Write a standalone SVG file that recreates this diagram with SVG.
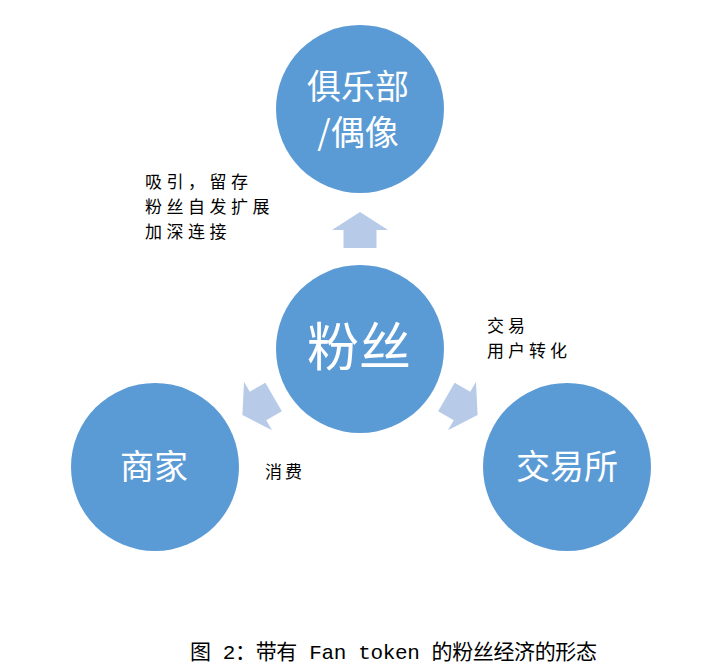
<svg xmlns="http://www.w3.org/2000/svg" width="716" height="670" viewBox="0 0 716 670">
<style>
.c{fill:#5b9bd5}
.ar{fill:#b7cbe8}
.w{fill:#ffffff;font-family:"Noto Sans CJK SC","Noto Sans",sans-serif;text-anchor:middle}
.lb{fill:#000000;font-family:"Noto Sans CJK SC","Noto Sans",sans-serif;font-size:17px}
.cap{fill:#000000;font-family:"Liberation Mono","Noto Sans CJK SC",monospace;font-size:21px}
</style>
<defs>
<polygon id="arrow" points="0,-18 28,0 16.5,0 16.5,18 -16.5,18 -16.5,0 -28,0"/>
</defs>
<rect width="716" height="670" fill="#ffffff"/>
<g id="connectors">
<use href="#arrow" class="ar" transform="translate(360,230)"/>
<use href="#arrow" class="ar" transform="translate(258,406) rotate(-120)"/>
<use href="#arrow" class="ar" transform="translate(462,406) rotate(120)"/>
</g>
<g id="club">
<circle class="c" cx="360" cy="109" r="84"/>
<text class="w" x="358" y="99" font-size="34">俱乐部</text>
<text class="w" x="358" y="145" font-size="34">/偶像</text>
</g>
<g id="fans">
<circle class="c" cx="360" cy="349" r="84"/>
<text class="w" x="359" y="366" font-size="52">粉丝</text>
</g>
<g id="merchant">
<circle class="c" cx="155" cy="467" r="84"/>
<text class="w" x="154" y="479" font-size="34">商家</text>
</g>
<g id="exchange">
<circle class="c" cx="567" cy="467" r="84"/>
<text class="w" x="567" y="479" font-size="34">交易所</text>
</g>
<g id="labels">
<text class="lb" x="145" y="188" letter-spacing="4.5">吸引，留存</text>
<text class="lb" x="145" y="213" letter-spacing="4.5">粉丝自发扩展</text>
<text class="lb" x="145" y="238" letter-spacing="4.5">加深连接</text>
<text class="lb" x="487" y="332" letter-spacing="4">交易</text>
<text class="lb" x="487" y="357" letter-spacing="4">用户转化</text>
<text class="lb" x="265" y="478" letter-spacing="3">消费</text>
</g>
<text class="cap" x="190" y="659" textLength="407" lengthAdjust="spacing">图 2：带有 Fan token 的粉丝经济的形态</text>
</svg>
